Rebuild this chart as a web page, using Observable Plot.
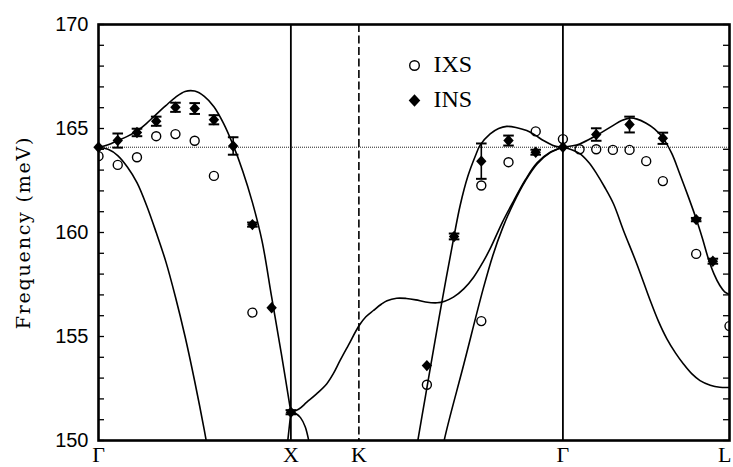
<!DOCTYPE html>
<html>
<head>
<meta charset="utf-8">
<script src="https://cdn.jsdelivr.net/npm/d3@7"></script>
<script src="https://cdn.jsdelivr.net/npm/@observablehq/plot@0.6"></script>
<style>
  html, body { margin: 0; padding: 0; background: #fff; }
</style>
</head>
<body>
<div id="chart"></div>
<script>
// Symmetry points along the path Γ–X–K–Γ–L (distance in units of 2π/a)
const symLabels = ["Γ", "X", "K", "Γ", "L"];
const symPositions = [0, 1, 1.3536, 2.4142, 3.2802];

// Reference energy of the optical phonon at Γ (meV)
const zoneCentre = 164.1;

// IXS measurements: [q, frequency]
const ixsGX = [[0, 163.67], [0.1, 163.25], [0.2, 163.62], [0.3, 164.63], [0.4, 164.73], [0.5, 164.41], [0.6, 162.72], [0.8, 156.15]];
const ixsKG = [[1.7071, 152.68], [1.99, 162.26], [1.99, 155.74], [2.1314, 163.38], [2.2728, 164.86], [2.4142, 164.49]];
const ixsGL = [[2.5008, 164.0], [2.5874, 164.0], [2.674, 163.97], [2.7606, 163.97], [2.8472, 163.43], [2.9338, 162.47], [3.107, 158.97], [3.2802, 155.5]];

// INS measurements: [q, frequency, error]
const insGX = [[0, 164.1, 0], [0.1, 164.42, 0.34], [0.2, 164.81, 0.18], [0.3, 165.35, 0.22], [0.4, 166.02, 0.22], [0.5, 165.96, 0.26], [0.6, 165.42, 0.22], [0.7, 164.16, 0.42], [0.8, 160.38, 0.1], [0.9, 156.38, 0], [1.0, 151.36, 0.1]];
const insKG = [[1.7071, 153.6, 0], [1.8485, 159.81, 0.14], [1.99, 163.43, 0.85], [2.1314, 164.42, 0.24], [2.2728, 163.86, 0.12], [2.4142, 164.1, 0]];
const insGL = [[2.5874, 164.71, 0.3], [2.7606, 165.19, 0.38], [2.9338, 164.53, 0.27], [3.107, 160.62, 0.08], [3.1936, 158.62, 0.12]];

// Calculated dispersion branches: [q, frequency]
const toGX = [[0, 164.1], [0.05, 164.0], [0.1, 163.7], [0.15, 163.15], [0.2, 162.4], [0.25, 161.3], [0.3, 160.0], [0.35, 158.6], [0.4, 156.9], [0.45, 155.0], [0.5, 152.85], [0.55, 150.5], [0.6, 147.9]];
const loGX = [[0, 164.1], [0.05, 164.22], [0.1, 164.42], [0.15, 164.62], [0.2, 164.88], [0.25, 165.25], [0.3, 165.68], [0.35, 166.1], [0.4, 166.5], [0.45, 166.78], [0.5, 166.8], [0.55, 166.55], [0.6, 166.05], [0.65, 165.25], [0.7, 164.2], [0.75, 162.95], [0.8, 161.45], [0.85, 159.6], [0.9, 156.9], [0.95, 154.2], [1.0, 151.36]];
const laGX = [[0.97, 148.8], [1.0, 151.36]];
const xkLower = [[1.0, 151.36], [1.025, 151.3], [1.05, 151.1], [1.075, 150.65], [1.1, 149.7], [1.12, 148.9]];
const xkgMiddle = [[1.0, 151.36], [1.04, 151.5], [1.083, 151.84], [1.135, 152.25], [1.187, 152.73], [1.22, 153.2], [1.256, 153.85], [1.3, 154.6], [1.355, 155.53], [1.39, 155.95], [1.429, 156.25], [1.47, 156.55], [1.5, 156.72], [1.55, 156.84], [1.6, 156.83], [1.65, 156.76], [1.7, 156.66], [1.76, 156.62], [1.8, 156.7], [1.845, 156.89], [1.9, 157.3], [1.95, 157.85], [2.0, 158.6], [2.036, 159.22], [2.1, 160.5], [2.157, 161.5], [2.22, 162.55], [2.28, 163.35], [2.35, 163.87], [2.4142, 164.1]];
const kgSteep = [[1.78, 149.0], [1.797, 150.0], [1.9, 153.7], [2.0, 157.3], [2.05, 158.9], [2.1, 160.2], [2.157, 161.4], [2.22, 162.5], [2.28, 163.3], [2.35, 163.85], [2.4142, 164.1]];
const kgUpper = [[1.64, 148.9], [1.66, 150.0], [1.7, 152.15], [1.727, 153.6], [1.78, 156.4], [1.848, 159.81], [1.88, 161.3], [1.92, 162.7], [1.96, 163.7], [1.984, 164.2], [2.036, 164.74], [2.08, 165.0], [2.122, 165.1], [2.17, 165.05], [2.226, 164.9], [2.27, 164.68], [2.313, 164.42], [2.36, 164.2], [2.383, 164.13], [2.4142, 164.1]];
const glUpper = [[2.4142, 164.1], [2.5008, 164.26], [2.5874, 164.66], [2.674, 165.14], [2.72, 165.38], [2.7606, 165.5], [2.8, 165.45], [2.8472, 165.25], [2.89, 164.98], [2.9338, 164.55], [2.98, 163.8], [3.0204, 162.85], [3.065, 161.75], [3.107, 160.66], [3.14, 159.7], [3.17, 158.75], [3.2, 158.0], [3.23, 157.45], [3.255, 157.15], [3.2802, 157.02]];
const glLower = [[2.4142, 164.1], [2.46, 163.98], [2.504, 163.78], [2.55, 163.35], [2.59, 162.82], [2.63, 162.2], [2.677, 161.38], [2.729, 160.1], [2.798, 158.5], [2.868, 156.73], [2.91, 155.75], [2.954, 154.9], [3.0, 154.2], [3.04, 153.69], [3.085, 153.2], [3.127, 152.88], [3.18, 152.66], [3.23, 152.56], [3.2802, 152.55]];

const branches = [toGX, loGX, laGX, xkLower, xkgMiddle, kgSteep, kgUpper, glUpper, glLower];

const legendItems = ["IXS", "INS"];
const yLabel = "Frequency (meV)";
const yMajorTicks = [150, 155, 160, 165, 170];
const yMinorTicks = d3.range(150, 171);

const ixs = [...ixsGX, ...ixsKG, ...ixsGL].map(([q, f]) => ({q, f}));
const ins = [...insGX, ...insKG, ...insGL].map(([q, f, e]) => ({q, f, e}));
const insBars = ins.filter(d => d.e > 0);
const caps = insBars.flatMap(d => [{q: d.q, f: d.f - d.e}, {q: d.q, f: d.f + d.e}]);
const symPoints = symLabels.map((label, i) => ({label, pos: symPositions[i]}));
const innerPoints = symPoints.slice(0, 4);
const endPoint = symPoints.slice(4);

// Filled diamond and error-bar cap glyphs
const makeDiamond = (w, h) => ({
  draw(ctx) {
    ctx.moveTo(0, -h); ctx.lineTo(w, 0); ctx.lineTo(0, h); ctx.lineTo(-w, 0); ctx.closePath();
  }
});
const diamond = makeDiamond(5.2, 5.7);
const legendDiamond = makeDiamond(5.8, 6.3);
const cap = {
  draw(ctx) { ctx.moveTo(-5.3, 0); ctx.lineTo(5.3, 0); }
};

const W = 733, H = 467, ML = 98, MR = 4, MT = 24, MB = 27;
const innerW = W - ML - MR;
const tickLen = 6;
const labelFont = {fontSize: 22, fontFamily: "Liberation Serif", fill: "black"};

const chart = Plot.plot({
  width: W,
  height: H,
  marginLeft: ML,
  marginRight: MR,
  marginTop: MT,
  marginBottom: MB,
  style: {fontFamily: "Liberation Sans", fontSize: "20px", background: "white", color: "black", overflow: "visible"},
  x: {domain: [symPositions[0], symPositions[4]], axis: null},
  y: {domain: [150, 170]},
  marks: [
    Plot.ruleY([zoneCentre], {stroke: "#222", strokeWidth: 1, strokeDasharray: "1,1"}),
    Plot.ruleX([symPositions[1], symPositions[3]], {stroke: "black", strokeWidth: 1.8}),
    Plot.ruleX([symPositions[2]], {stroke: "black", strokeWidth: 1.6, strokeDasharray: "8,3.5"}),
    ...branches.map(b => Plot.line(b, {x: d => d[0], y: d => d[1], curve: "catmull-rom", stroke: "black", strokeWidth: 1.6, clip: true})),
    Plot.ruleX(insBars, {x: "q", y1: d => d.f - d.e, y2: d => d.f + d.e, stroke: "black", strokeWidth: 1.6}),
    Plot.dot(caps, {x: "q", y: "f", symbol: cap, stroke: "black", strokeWidth: 2}),
    Plot.dot(ixs, {x: "q", y: "f", r: 4.5, stroke: "black", strokeWidth: 1.4, fill: "none", clip: true}),
    Plot.dot(ins, {x: "q", y: "f", symbol: diamond, fill: "black", stroke: "none"}),
    Plot.frame({stroke: "black", strokeWidth: 2.6}),
    Plot.tickY(yMinorTicks, {y: d => d, insetRight: innerW - tickLen, stroke: "black", strokeWidth: 1.3}),
    Plot.tickY(yMinorTicks, {y: d => d, insetLeft: innerW - tickLen, stroke: "black", strokeWidth: 1.3}),
    Plot.axisY({ticks: yMajorTicks, tickSize: 0, tickPadding: 10, label: null, fontSize: 20, fontFamily: "Liberation Sans"}),
    Plot.text([yLabel], {frameAnchor: "left", dx: -75, rotate: -90, textAnchor: "middle", lineAnchor: "middle", fontSize: 19, fontFamily: "DejaVu Serif", fill: "black"}),
    // Symmetry-point labels under the axis
    Plot.text(innerPoints, {x: "pos", text: "label", frameAnchor: "bottom", lineAnchor: "top", dy: 6, ...labelFont}),
    Plot.text(endPoint, {x: "pos", text: "label", frameAnchor: "bottom", lineAnchor: "top", dy: 6, dx: 2, textAnchor: "end", ...labelFont}),
    // Legend
    Plot.dot([legendItems[0]], {frameAnchor: "top-left", dx: 316, dy: 41, r: 4.8, stroke: "black", strokeWidth: 1.4, fill: "none"}),
    Plot.dot([legendItems[1]], {frameAnchor: "top-left", dx: 316, dy: 76, symbol: legendDiamond, fill: "black"}),
    Plot.text([legendItems[0]], {frameAnchor: "top-left", dx: 335, dy: 40, fontSize: 24, fontFamily: "Liberation Serif", textAnchor: "start", lineAnchor: "middle", fill: "black"}),
    Plot.text([legendItems[1]], {frameAnchor: "top-left", dx: 335, dy: 75, fontSize: 24, fontFamily: "Liberation Serif", textAnchor: "start", lineAnchor: "middle", fill: "black"})
  ]
});

// Widen the axis title to its printed length
d3.select(chart).selectAll("text")
  .filter(function() { return this.textContent === yLabel; })
  .attr("letter-spacing", "1.8px");

document.getElementById("chart").appendChild(chart);
</script>
</body>
</html>
